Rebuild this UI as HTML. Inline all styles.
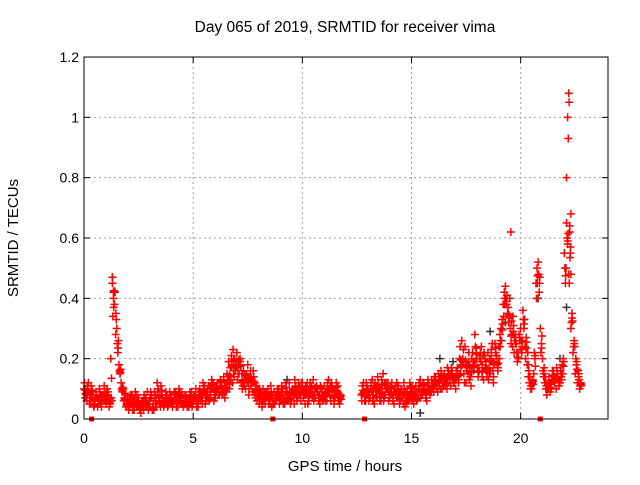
<!DOCTYPE html>
<html><head><meta charset="utf-8"><style>
body{margin:0;background:#fff;font-family:"Liberation Sans",sans-serif}
svg text{font-family:"Liberation Sans",sans-serif;font-size:15px;fill:#000}
svg text.tk{font-size:14px}
</style></head><body>
<svg id="c" width="640" height="480">
<text x="345" y="32" text-anchor="middle" style="font-size:15.5px">Day 065 of 2019, SRMTID for receiver vima</text>
<text x="345" y="471" text-anchor="middle">GPS time / hours</text>
<text transform="translate(18,238) rotate(-90)" text-anchor="middle">SRMTID / TECUs</text>
<g id="grid"></g><g id="marks"></g><g id="axes"></g>
</svg>
<script>
const xTicks=[0,5,10,15,20];
const yTicks=[0,0.2,0.4,0.6,0.8,1,1.2];
const yTickLabels=["0","0.2","0.4","0.6","0.8","1","1.2"];
const redA=[0.10,0.08,0.12,0.06,0.09,0.05,0.07,0.10,0.04,0.08,
0.06,0.09,0.05,0.45,0.38,0.30,0.18,0.12,0.10,0.08,
0.06,0.04,0.08,0.03,0.05,0.07,0.02,0.06,0.04,0.09,
0.05,0.08,0.03,0.06,0.10,0.04,0.07,0.05,0.08,0.06,
0.07,0.05,0.09,0.04,0.06,0.08,0.05,0.07,0.04,0.06,
0.05,0.08,0.06,0.10,0.07,0.09,0.06,0.11,0.08,0.10,
0.09,0.12,0.08,0.11,0.14,0.10,0.13,0.17,0.12,0.20,
0.22,0.15,0.12,0.16,0.10,0.18,0.14,0.12,0.09,0.11,
0.08,0.06,0.10,0.05,0.08,0.07,0.04,0.09,0.06,0.08,
0.07,0.10,0.05,0.09,0.12,0.06,0.08,0.11,0.07,0.09,
0.12,0.08,0.10,0.06,0.09,0.13,0.07,0.10,0.05,0.09,
0.11,0.08,0.13,0.06,0.10,0.07,0.09,0.05,null,null,
null,null,null,null,null,null,null,0.08,0.12,0.06,
0.10,0.07,0.13,0.05,0.09,0.11,0.06,0.15,0.08,0.10,
0.07,0.12,0.05,0.09,0.11,0.06,0.08,0.04,0.10,0.07,
0.09,0.05,0.11,0.07,0.13,0.08,0.10,0.06,0.12,0.09,
0.11,0.14,0.09,0.13,0.10,0.15,0.12,0.16,0.11,0.14,
0.13,0.17,0.20,0.26,0.15,0.12,0.18,0.14,0.22,0.28,
0.20,0.16,0.24,0.13,0.19,0.22,0.15,0.25,0.18,0.21,
0.24,0.30,0.38,0.44,0.35,0.40,0.28,0.22,0.25,0.20,
0.30,0.36,0.24,0.18,0.12,0.10,0.15,0.45,0.52,0.30,
0.20,0.12,0.08,0.14,0.10,0.16,0.13,0.15,0.12,0.18,
0.55,0.65,0.48,0.30,0.22,0.15,0.12,0.10];
const redB=[0.07,0.11,0.05,0.08,0.04,0.09,0.06,0.05,0.08,0.06,
0.10,0.04,0.07,0.40,0.28,0.22,0.15,0.09,0.07,0.05,
0.03,0.07,0.05,0.09,0.04,0.03,0.06,0.08,0.05,0.03,
0.09,0.04,0.07,0.12,0.05,0.08,0.04,0.09,0.05,0.07,
0.04,0.08,0.06,0.10,0.05,0.04,0.07,0.05,0.09,0.04,
0.08,0.04,0.09,0.06,0.12,0.05,0.10,0.07,0.13,0.06,
0.11,0.08,0.13,0.09,0.07,0.15,0.10,0.21,0.16,0.18,
0.17,0.20,0.10,0.13,0.15,0.08,0.11,0.16,0.07,0.09,
0.10,0.04,0.07,0.09,0.05,0.11,0.06,0.07,0.10,0.05,
0.11,0.06,0.09,0.07,0.05,0.10,0.13,0.06,0.10,0.12,
0.07,0.11,0.05,0.12,0.07,0.08,0.11,0.06,0.10,0.07,
0.06,0.12,0.08,0.10,0.05,0.12,0.06,0.08,null,null,
null,null,null,null,null,null,null,0.11,0.06,0.10,
0.06,0.12,0.08,0.10,0.14,0.06,0.10,0.08,0.12,0.06,
0.10,0.06,0.11,0.07,0.05,0.10,0.12,0.07,0.06,0.09,
0.06,0.10,0.07,0.12,0.09,0.11,0.07,0.13,0.08,0.11,
0.14,0.10,0.13,0.16,0.12,0.11,0.17,0.13,0.15,0.12,
0.16,0.12,0.15,0.20,0.24,0.18,0.13,0.20,0.16,0.19,
0.14,0.22,0.18,0.20,0.14,0.17,0.23,0.12,0.22,0.16,
0.28,0.33,0.42,0.38,0.32,0.25,0.34,0.28,0.19,0.26,
0.22,0.30,0.27,0.14,0.10,0.13,0.20,0.50,0.42,0.25,
0.14,0.10,0.12,0.09,0.16,0.12,0.17,0.11,0.14,0.20,
0.45,0.58,0.62,0.35,0.26,0.18,0.14,0.12];
const redC=[0.12,0.06,0.09,0.11,0.05,0.07,0.04,0.09,0.06,0.11,
0.05,0.07,0.20,0.34,0.42,0.25,0.16,0.10,0.06,0.04,
0.05,0.08,0.03,0.05,0.08,0.04,0.05,0.03,0.07,0.05,
0.07,0.03,0.09,0.04,0.06,0.11,0.05,0.07,0.04,0.09,
0.06,0.09,0.04,0.07,0.09,0.05,0.08,0.04,0.06,0.09,
0.06,0.10,0.04,0.08,0.05,0.11,0.08,0.06,0.10,0.12,
0.07,0.10,0.12,0.08,0.12,0.09,0.19,0.14,0.23,0.16,
0.13,0.18,0.15,0.11,0.13,0.12,0.16,0.09,0.12,0.06,
0.05,0.09,0.06,0.08,0.10,0.05,0.08,0.05,0.08,0.10,
0.09,0.05,0.12,0.06,0.08,0.09,0.05,0.09,0.12,0.06,
0.09,0.05,0.12,0.09,0.11,0.06,0.10,0.08,0.11,0.06,
0.09,0.06,0.10,0.12,0.07,0.09,0.11,0.07,null,null,
null,null,null,null,null,null,null,0.06,0.09,0.12,
0.08,0.10,0.06,0.12,0.07,0.09,0.13,0.06,0.10,0.12,
0.11,0.08,0.09,0.12,0.08,0.10,0.05,0.09,0.07,0.12,
0.11,0.08,0.06,0.10,0.07,0.12,0.09,0.11,0.10,0.13,
0.09,0.12,0.15,0.10,0.14,0.12,0.10,0.14,0.17,0.12,
0.10,0.14,0.24,0.18,0.12,0.16,0.22,0.11,0.19,0.24,
0.17,0.20,0.14,0.22,0.17,0.13,0.19,0.16,0.25,0.18,
0.20,0.26,0.34,0.40,0.37,0.30,0.24,0.26,0.22,0.28,
0.26,0.33,0.20,0.22,0.14,0.12,0.22,0.40,0.48,0.22,
0.16,0.14,0.10,0.12,0.13,0.14,0.10,0.13,0.16,0.15,
0.50,0.60,0.45,0.32,0.24,0.20,0.16,0.11];
const spikeX=[22.2,22.22,22.15,22.18,22.1,19.55,22.3,22.28,1.3,1.35,22.25,22.3];
const spikeY=[1.08,1.05,1.0,0.93,0.8,0.62,0.68,0.57,0.47,0.42,0.64,0.48];
const blackX=[1.3,7.0,7.5,15.4,16.3,18.6,19.3,20.8,21.8,22.1,16.9,9.3];
const blackY=[0.47,0.17,0.18,0.02,0.20,0.29,0.32,0.40,0.20,0.37,0.19,0.13];
const zeroX=[0.35,8.65,12.85,20.9];

const X0=84,X1=608,Y0=419,Y1=57;
const xs=h=>X0+h*(X1-X0)/24;
const ys=v=>Y0-v*(Y0-Y1)/1.2;
const NS='http://www.w3.org/2000/svg';
const grid=document.getElementById('grid'),marks=document.getElementById('marks'),axes=document.getElementById('axes');
function mk(t,a,p){const e=document.createElementNS(NS,t);for(const k in a)e.setAttribute(k,a[k]);p.appendChild(e);return e;}
xTicks.forEach((t,i)=>{
 const x=xs(t);
 if(t>0){const g=mk('line',{x1:x,y1:Y1,x2:x,y2:Y0,stroke:'#a0a0a0','stroke-dasharray':'2,3'},grid);
 
 }
 const l=mk('text',{x:x,y:Y0+24,'text-anchor':'middle',class:'tk'},axes);l.textContent=String(t);
 
 
 mk('line',{x1:x,y1:Y0,x2:x,y2:Y0-6,stroke:'#000'},axes);
 mk('line',{x1:x,y1:Y1,x2:x,y2:Y1+6,stroke:'#000'},axes);
});
yTicks.forEach((t,i)=>{
 const y=ys(t);
 if(t>0&&t<1.2){const g=mk('line',{x1:X0,y1:y,x2:X1,y2:y,stroke:'#a0a0a0','stroke-dasharray':'2,3'},grid);
 
 }
 const l=mk('text',{x:X0-5,y:y+5,'text-anchor':'end',class:'tk'},axes);l.textContent=yTickLabels[i];
 
 
 mk('line',{x1:X0,y1:y,x2:X0+6,y2:y,stroke:'#000'},axes);
 mk('line',{x1:X1,y1:y,x2:X1-6,y2:y,stroke:'#000'},axes);
});
const fr=mk('rect',{x:X0,y:Y1,width:X1-X0,height:Y0-Y1,fill:'none',stroke:'#000'},axes);


function plus(h,v,col,name){
 const x=xs(h),y=ys(v);
 const p=mk('path',{d:`M${x-4} ${y}H${x+4}M${x} ${y-4}V${y+4}`,stroke:col,'stroke-width':1.5,fill:'none'},marks);
 
 
}
blackX.forEach((h,i)=>plus(h,blackY[i],'#333','black-point'));
redA.forEach((v,i)=>{if(v!==null)plus(i*0.1,v,'#f00','red-point');});
redB.forEach((v,i)=>{if(v!==null)plus(i*0.1+0.05,v,'#f00','red-point');});
redC.forEach((v,i)=>{if(v!==null)plus(i*0.1+0.025,v,'#f00','red-point');});
redA.forEach((v,i)=>{if(v!==null&&redB[i]!==null)plus(i*0.1+0.075,(v+redB[i])/2,'#f00','red-point');});
redB.forEach((v,i)=>{if(v!==null&&redC[i]!==null)plus(i*0.1+0.06,(v+redC[i])/2,'#f00','red-point');});
spikeX.forEach((h,i)=>plus(h,spikeY[i],'#f00','red-spike-point'));
zeroX.forEach(h=>{const r=mk('rect',{x:xs(h)-2.5,y:Y0-2.5,width:5,height:5,fill:'#f00'},marks);
 
 });
</script>
</body></html>
